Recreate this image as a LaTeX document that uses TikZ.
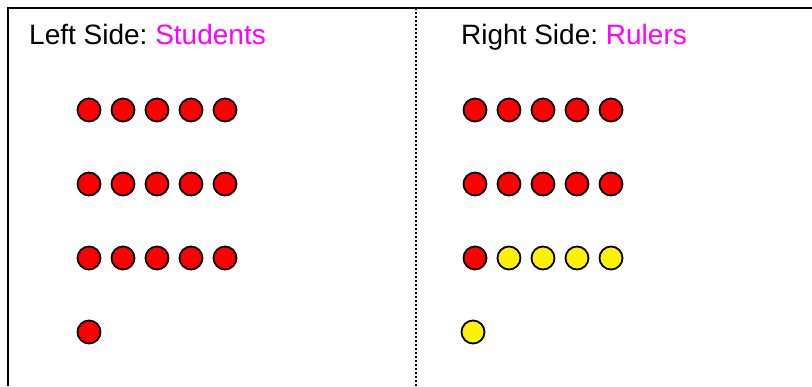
\documentclass[tikz,border=0pt]{standalone}
\usepackage{fontspec}
\setmainfont{Liberation Sans}
\frenchspacing
\definecolor{sidepink}{HTML}{FF00FF}
\tikzset{
  counter/.style={circle, draw, line width=1.8pt, minimum size=23pt, inner sep=0pt},
  redc/.style={counter, fill=red},
  yellowc/.style={counter, fill=yellow},
  heading/.style={anchor=base west, inner sep=0pt, font=\fontsize{28}{33}\selectfont},
}
\begin{document}
\begin{tikzpicture}[x=1pt, y=-1pt]
\useasboundingbox (0,0) rectangle (812,386);
% frame and divider
\coordinate (topleft) at (8,8);
\coordinate (topright) at (812,8);
\coordinate (botleft) at (8,386);
\coordinate (divtop) at (416,8);
\coordinate (divbot) at (416,386);
\draw[line width=1.8pt] (botleft) -- (topleft) -- (topright);
\draw[line width=1.8pt, dash pattern=on 1.6pt off 2.4pt] (divtop) -- (divbot);
% headings
\node[heading] (lefthead) at (29,44) {Left Side: \textcolor{sidepink}{Students}};
\node[heading] (righthead) at (461,44) {Right Side: \textcolor{sidepink}{Rulers}};
% students
\node[redc] (s1) at (89,110) {};
\node[redc] (s2) at (123,110) {};
\node[redc] (s3) at (157,110) {};
\node[redc] (s4) at (191,110) {};
\node[redc] (s5) at (225,110) {};
\node[redc] (s6) at (89,184) {};
\node[redc] (s7) at (123,184) {};
\node[redc] (s8) at (157,184) {};
\node[redc] (s9) at (191,184) {};
\node[redc] (s10) at (225,184) {};
\node[redc] (s11) at (89,258) {};
\node[redc] (s12) at (123,258) {};
\node[redc] (s13) at (157,258) {};
\node[redc] (s14) at (191,258) {};
\node[redc] (s15) at (225,258) {};
\node[redc] (s16) at (89,332) {};
% rulers
\node[redc] (r1) at (475,110) {};
\node[redc] (r2) at (509,110) {};
\node[redc] (r3) at (543,110) {};
\node[redc] (r4) at (577,110) {};
\node[redc] (r5) at (611,110) {};
\node[redc] (r6) at (475,184) {};
\node[redc] (r7) at (509,184) {};
\node[redc] (r8) at (543,184) {};
\node[redc] (r9) at (577,184) {};
\node[redc] (r10) at (611,184) {};
\node[redc] (r11) at (475,258) {};
\node[yellowc] (r12) at (509,258) {};
\node[yellowc] (r13) at (543,258) {};
\node[yellowc] (r14) at (577,258) {};
\node[yellowc] (r15) at (611,258) {};
\node[yellowc] (r16) at (473,332) {};
\end{tikzpicture}
\end{document}
